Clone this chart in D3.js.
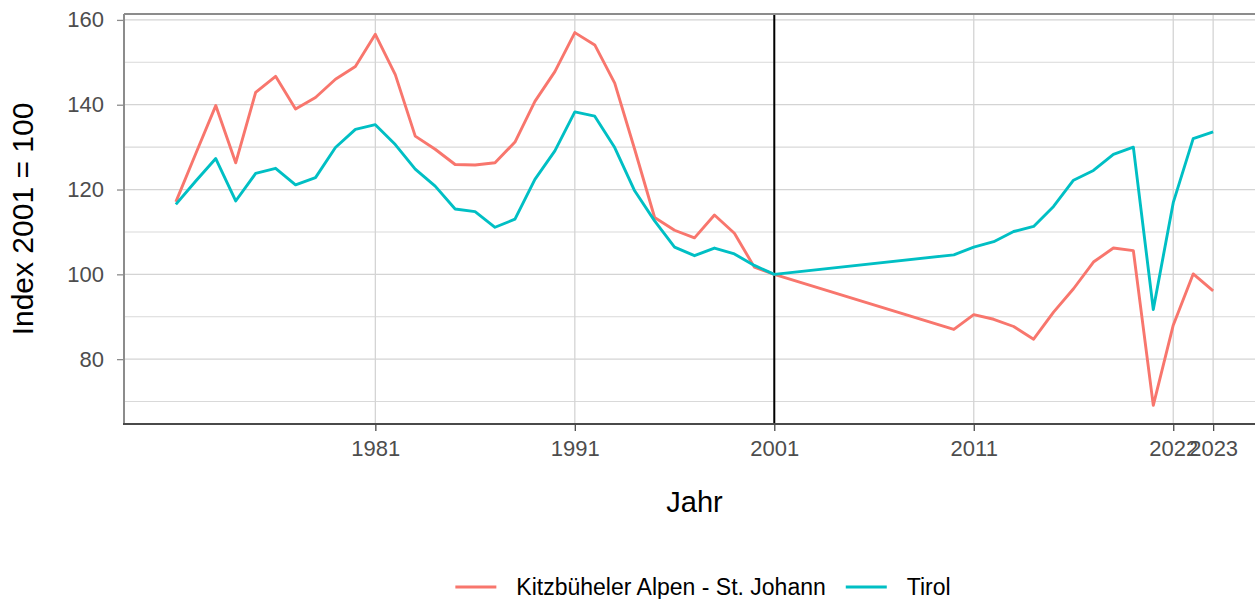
<!DOCTYPE html>
<html>
<head>
<meta charset="utf-8">
<script src="https://cdn.jsdelivr.net/npm/d3@7"></script>
<style>
  body { margin: 0; background: #fff; }
  text { font-family: "Liberation Sans", Arial, sans-serif; }
</style>
</head>
<body>
<div id="chart"></div>
<script>
var years = [1971, 1972, 1973, 1974, 1975, 1976, 1977, 1978, 1979, 1980,
             1981, 1982, 1983, 1984, 1985, 1986, 1987, 1988, 1989, 1990,
             1991, 1992, 1993, 1994, 1995, 1996, 1997, 1998, 1999, 2000,
             2001, 2010, 2011, 2012, 2013, 2014, 2015, 2016, 2017, 2018,
             2019, 2020, 2021, 2022, 2023];

var kitzbuehel = [117.1, 128.5, 139.8, 126.3, 142.9, 146.7, 139.0, 141.7, 146.0, 149.0,
                  156.6, 147.1, 132.6, 129.5, 125.9, 125.8, 126.3, 131.2, 140.8, 147.8,
                  157.0, 154.1, 145.1, 129.5, 113.4, 110.4, 108.6, 114.0, 109.7, 101.7,
                  100.0, 87.0, 90.5, 89.4, 87.7, 84.7, 91.1, 96.6, 102.9, 106.2,
                  105.6, 69.1, 88.0, 100.1, 96.1];

var tirol = [116.5, 122.0, 127.3, 117.3, 123.8, 125.0, 121.1, 122.8, 129.9, 134.2,
             135.3, 130.6, 124.8, 120.8, 115.4, 114.8, 111.1, 113.0, 122.4, 129.1,
             138.3, 137.3, 129.9, 119.7, 112.6, 106.4, 104.4, 106.2, 104.8, 102.1,
             100.0, 104.6, 106.4, 107.7, 110.1, 111.3, 116.0, 122.2, 124.5, 128.3,
             130.0, 91.7, 116.9, 132.0, 133.6];

var seriesNames = ["Kitzbüheler Alpen - St. Johann", "Tirol"];
var seriesColors = ["#F8766D", "#00BFC4"];

var xTickValues = [1981, 1991, 2001, 2011, 2021, 2023];
var xTickLabels = ["1981", "1991", "2001", "2011", "2022", "2023"];
var yTickValues = [80, 100, 120, 140, 160];
var yMinorValues = [70, 90, 110, 130, 150];
var baseYear = 2001;

var width = 1255, height = 599;
var margin = {top: 14, right: -10, bottom: 175, left: 124};
var innerW = width - margin.left - margin.right,
    innerH = height - margin.top - margin.bottom;

var svg = d3.select("#chart")
    .append("svg")
        .attr("width", width)
        .attr("height", height);

var g = svg.append("g")
    .attr("transform", "translate(" + margin.left + "," + margin.top + ")");

// ggplot style 5% expansion
var xExt = d3.extent(years);
var xPad = (xExt[1] - xExt[0]) * 0.05;
var x = d3.scaleLinear()
    .domain([xExt[0] - xPad, xExt[1] + xPad])
    .range([0, innerW]);

var yExt = d3.extent(kitzbuehel.concat(tirol));
var yPad = (yExt[1] - yExt[0]) * 0.05;
var y = d3.scaleLinear()
    .domain([yExt[0] - yPad, yExt[1] + yPad])
    .range([innerH, 0]);

// grid
g.selectAll(".hminor")
    .data(yMinorValues)
    .enter()
    .append("line")
        .attr("x1", 0).attr("x2", innerW)
        .attr("y1", function(d) { return y(d); })
        .attr("y2", function(d) { return y(d); })
        .attr("stroke", "#d9d9d9")
        .attr("stroke-width", 1.1);

g.selectAll(".hmajor")
    .data(yTickValues)
    .enter()
    .append("line")
        .attr("x1", 0).attr("x2", innerW)
        .attr("y1", function(d) { return y(d); })
        .attr("y2", function(d) { return y(d); })
        .attr("stroke", "#d4d4d4")
        .attr("stroke-width", 1.3);

g.selectAll(".vmajor")
    .data(xTickValues)
    .enter()
    .append("line")
        .attr("y1", 0).attr("y2", innerH)
        .attr("x1", function(d) { return x(d); })
        .attr("x2", function(d) { return x(d); })
        .attr("stroke", "#d4d4d4")
        .attr("stroke-width", 1.3);

// reference line at base year
g.append("line")
    .attr("x1", x(baseYear)).attr("x2", x(baseYear))
    .attr("y1", 0).attr("y2", innerH)
    .attr("stroke", "#000")
    .attr("stroke-width", 2);

// lines
var dataReady = seriesNames.map(function(name, i) {
    var vals = i === 0 ? kitzbuehel : tirol;
    return {
        name: name,
        color: seriesColors[i],
        values: years.map(function(yr, j) { return {year: yr, value: vals[j]}; })
    };
});

var line = d3.line()
    .x(function(d) { return x(d.year); })
    .y(function(d) { return y(d.value); });

g.selectAll(".series")
    .data(dataReady)
    .enter()
    .append("path")
        .attr("d", function(d) { return line(d.values); })
        .attr("fill", "none")
        .attr("stroke", function(d) { return d.color; })
        .attr("stroke-width", 2.9)
        .attr("stroke-linejoin", "round");

// axes
var xAxis = g.append("g")
    .attr("transform", "translate(0," + innerH + ")")
    .call(d3.axisBottom(x)
        .tickValues(xTickValues)
        .tickFormat(function(d, i) { return xTickLabels[i]; })
        .tickSizeOuter(0)
        .tickSize(7)
        .tickPadding(9));
xAxis.select(".domain").remove();
xAxis.selectAll(".tick line").attr("stroke", "#4a4a4a").attr("stroke-width", 1.3);
xAxis.selectAll(".tick text")
    .attr("fill", "#4d4d4d")
    .style("font-size", "22px")
    .style("font-family", "'Liberation Sans', Arial, sans-serif");

var yAxis = g.append("g")
    .call(d3.axisLeft(y)
        .tickValues(yTickValues)
        .tickSizeOuter(0)
        .tickSize(7)
        .tickPadding(13));
yAxis.select(".domain").remove();
yAxis.selectAll(".tick line").attr("stroke", "#8c8c8c").attr("stroke-width", 1.3);
yAxis.selectAll(".tick text")
    .attr("fill", "#4d4d4d")
    .style("font-size", "22px")
    .style("font-family", "'Liberation Sans', Arial, sans-serif");

// panel frame: top and left grey, bottom dark
g.append("line")
    .attr("x1", 0).attr("x2", innerW)
    .attr("y1", 0).attr("y2", 0)
    .attr("stroke", "#8c8c8c").attr("stroke-width", 2);
g.append("line")
    .attr("x1", 0).attr("x2", 0)
    .attr("y1", 0).attr("y2", innerH)
    .attr("stroke", "#8c8c8c").attr("stroke-width", 2);
g.append("line")
    .attr("x1", -1).attr("x2", innerW)
    .attr("y1", innerH).attr("y2", innerH)
    .attr("stroke", "#4a4a4a").attr("stroke-width", 2);

// axis titles
svg.append("text")
    .attr("x", margin.left + innerW / 2)
    .attr("y", 512)
    .attr("text-anchor", "middle")
    .style("font-size", "29px")
    .text("Jahr");

svg.append("text")
    .attr("transform", "translate(33," + (margin.top + innerH / 2) + ") rotate(-90)")
    .attr("text-anchor", "middle")
    .style("font-size", "30px")
    .text("Index 2001 = 100");

// legend
var legend = svg.append("g");
var cursor = 0;
dataReady.forEach(function(d, i) {
    var item = legend.append("g").attr("transform", "translate(" + cursor + ",0)");
    item.append("line")
        .attr("x1", 0).attr("x2", 41)
        .attr("y1", 0).attr("y2", 0)
        .attr("stroke", d.color)
        .attr("stroke-width", 3);
    var t = item.append("text")
        .attr("x", 61)
        .attr("y", 8)
        .style("font-size", "23px")
        .text(d.name);
    cursor += 61 + t.node().getComputedTextLength() + 20;
});
var legendW = cursor - 20;
legend.attr("transform", "translate(" + (703 - legendW / 2) + ",587)");
</script>
</body>
</html>
